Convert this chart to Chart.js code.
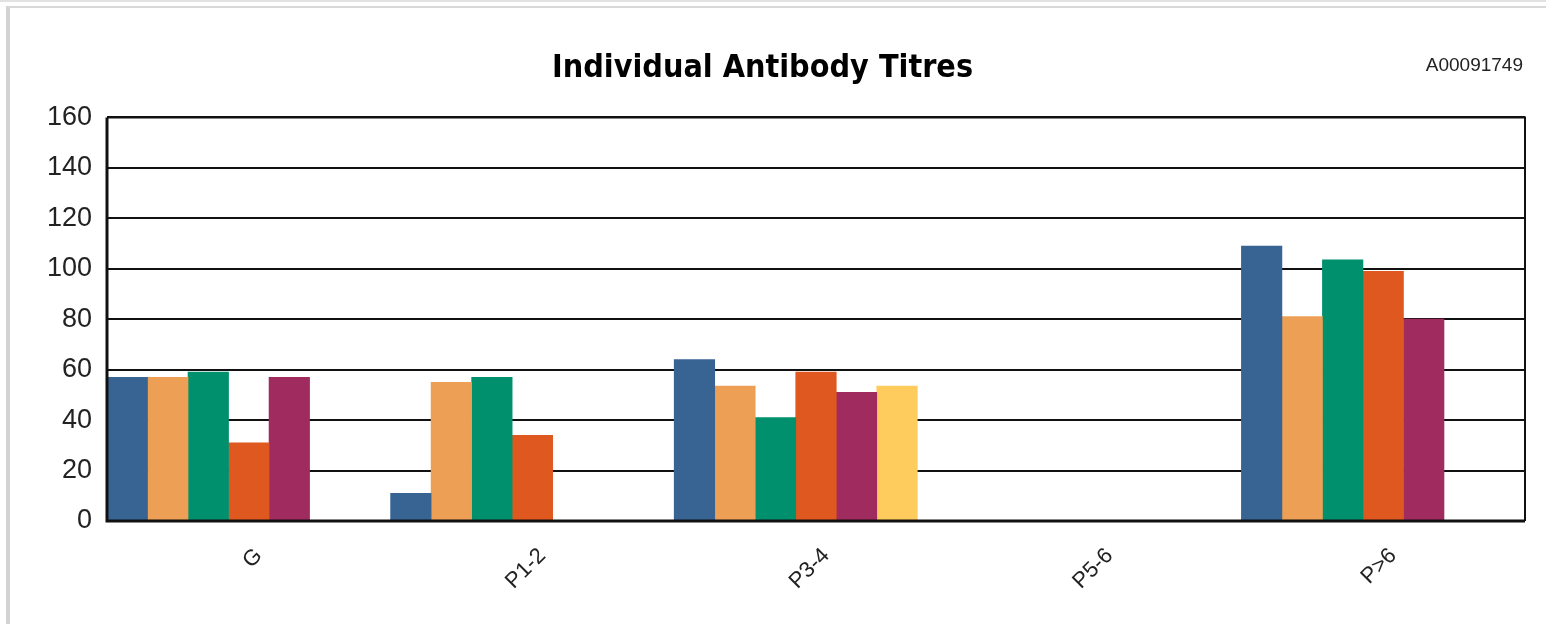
<!DOCTYPE html>
<html>
<head>
<meta charset="utf-8">
<title>Individual Antibody Titres</title>
<script src="https://cdn.jsdelivr.net/npm/chart.js@4.4.1/dist/chart.umd.min.js"></script>
<style>
    html, body { margin: 0; padding: 0; background: #fff; }
    body { width: 1546px; height: 624px; position: relative; overflow: hidden; }
    .top-rule { position: absolute; left: 0; top: 0; width: 1546px; height: 2px; background: #e2e2e2; }
    .panel {
        position: absolute; left: 6px; top: 6px; width: 1560px; height: 640px;
        border-left: 4px solid #d4d4d4; border-top: 2px solid #d8d8d8;
    }
    .chart-wrap { position: absolute; left: 0; top: 0; width: 1546px; height: 624px; }
</style>
</head>
<body>
<div class="top-rule"></div>
<div class="panel"></div>
<div class="chart-wrap"><canvas id="myChart"></canvas></div>

<script>
// Chart data
const categories = ['G', 'P1-2', 'P3-4', 'P5-6', 'P>6'];
const yTicks = [0, 20, 40, 60, 80, 100, 120, 140, 160];
const chartCode = 'A00091749';

const series1 = [57, 11, 64, null, 109];
const series2 = [57, 55, 53.5, null, 81];
const series3 = [59, 57, 41, null, 103.5];
const series4 = [31, 34, 59, null, 99];
const series5 = [57, null, 51, null, 80];
const series6 = [null, null, 53.5, null, null];
const series7 = [null, null, null, null, null]; // empty slot, keeps bars left aligned

const colors = ['#386494', '#eda055', '#00906e', '#de581f', '#a02b5f', '#fecb5d', '#ffffff'];

// Draws the black frame round the plot area and the code at top right
const framePlugin = {
    id: 'framePlugin',
    afterDraw(chart) {
        const a = chart.chartArea;
        const c = chart.ctx;
        c.save();
        c.strokeStyle = '#111';
        c.lineWidth = 2;
        c.beginPath();
        c.moveTo(a.left, a.top);
        c.lineTo(a.right, a.top);
        c.lineTo(a.right, a.bottom);
        c.stroke();
        c.lineWidth = 3;
        c.beginPath();
        c.moveTo(a.left, a.top);
        c.lineTo(a.left, a.bottom);
        c.lineTo(a.right, a.bottom);
        c.stroke();

        c.fillStyle = '#222';
        c.font = '19px "Liberation Sans", Arial, sans-serif';
        c.textAlign = 'right';
        c.textBaseline = 'alphabetic';
        c.fillText(chartCode, a.right - 2, a.top - 46);
        c.restore();
    }
};

function initializeChart() {
    const ctx = document.getElementById('myChart');
    const data = [series1, series2, series3, series4, series5, series6, series7];

    new Chart(ctx, {
        type: 'bar',
        data: {
            labels: categories,
            datasets: data.map((values, i) => ({
                label: 'Series ' + (i + 1),
                data: values,
                backgroundColor: colors[i],
                borderWidth: 0,
                categoryPercentage: 1.0,
                barPercentage: 1.0
            }))
        },
        options: {
            responsive: false,
            animation: false,
            layout: { padding: { left: 0, right: 21, top: 0, bottom: 0 } },
            plugins: {
                legend: { display: false },
                tooltip: { enabled: false },
                title: {
                    display: true,
                    text: 'Individual Antibody Titres',
                    color: '#000',
                    font: { family: '"Liberation Sans Narrow", "DejaVu Sans Condensed", Arial, sans-serif', size: 32, weight: 'bold' },
                    padding: { top: 49, bottom: 30 }
                }
            },
            scales: {
                x: {
                    grid: { display: false },
                    border: { display: false },
                    ticks: {
                        color: '#222',
                        font: { family: '"Liberation Sans", Arial, sans-serif', size: 22 },
                        minRotation: 45,
                        maxRotation: 45,
                        labelOffset: 10,
                        padding: 14
                    },
                    afterFit(scale) { scale.height = 103; }
                },
                y: {
                    min: 0,
                    max: 160,
                    afterBuildTicks(scale) { scale.ticks = yTicks.map(v => ({ value: v })); },
                    grid: { color: '#111', lineWidth: 2, drawTicks: false },
                    border: { display: false },
                    ticks: {
                        color: '#222',
                        font: { family: '"Liberation Sans", Arial, sans-serif', size: 27 },
                        padding: 15
                    },
                    afterFit(scale) { scale.width = 107; }
                }
            }
        },
        plugins: [framePlugin]
    });
}

document.getElementById('myChart').width = 1546;
document.getElementById('myChart').height = 624;
initializeChart();
</script>
</body>
</html>
